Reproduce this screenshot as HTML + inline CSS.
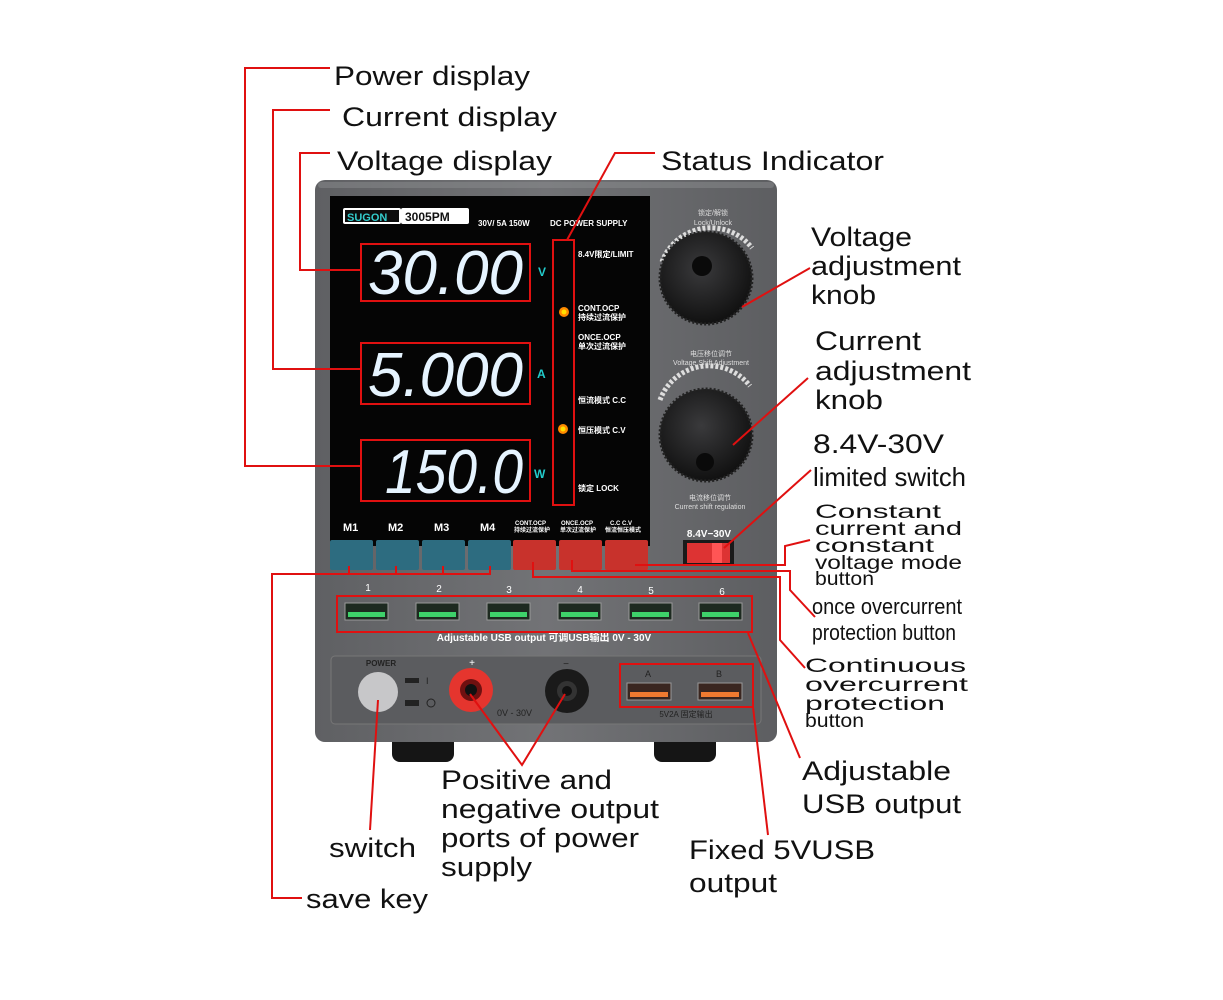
<!DOCTYPE html>
<html><head><meta charset="utf-8"><style>
html,body{margin:0;padding:0;background:#fff;width:1223px;height:1000px;overflow:hidden}
svg{display:block}
text{font-family:"Liberation Sans","Noto Sans CJK SC",sans-serif}
</style></head><body>
<svg width="1223" height="1000" viewBox="0 0 1223 1000" xmlns="http://www.w3.org/2000/svg">
<defs>
<linearGradient id="body" x1="0" y1="0" x2="1" y2="0"><stop offset="0" stop-color="#5f6063"/><stop offset="0.5" stop-color="#727376"/><stop offset="1" stop-color="#5d5e61"/></linearGradient>
<radialGradient id="knob" cx="0.45" cy="0.4" r="0.6"><stop offset="0" stop-color="#3a3a3c"/><stop offset="1" stop-color="#111"/></radialGradient>
</defs>
<rect x="392" y="730" width="62" height="32" rx="8" fill="#151515"/>
<rect x="654" y="730" width="62" height="32" rx="8" fill="#151515"/>
<rect x="315" y="180" width="462" height="562" rx="10" fill="url(#body)"/>
<rect x="318" y="182" width="456" height="6" rx="3" fill="#8a8b8e" opacity="0.5"/>
<rect x="330" y="196" width="320" height="350" fill="#050505"/>
<rect x="343" y="208" width="58" height="16" rx="2" fill="#fff"/>
<rect x="345" y="210" width="54" height="12" fill="#0d0d0d"/>
<text x="347" y="221" font-size="11" font-weight="bold" fill="#3cc">SUGON</text>
<rect x="401" y="208" width="68" height="16" rx="2" fill="#fff"/>
<text x="405" y="221" font-size="12" font-weight="bold" fill="#111">3005PM</text>
<text x="478" y="226" font-size="8" font-weight="bold" fill="#fff">30V/ 5A 150W</text>
<text x="550" y="226" font-size="8" font-weight="bold" fill="#fff">DC POWER SUPPLY</text>
<g font-family="Liberation Sans" font-size="62" fill="#e6f4ff" font-style="italic">
<text x="368" y="294" textLength="155" lengthAdjust="spacingAndGlyphs">30.00</text>
<text x="368" y="396" textLength="155" lengthAdjust="spacingAndGlyphs">5.000</text>
<text x="385" y="493" textLength="138" lengthAdjust="spacingAndGlyphs">150.0</text>
</g>
<text x="538" y="276" font-size="12" font-weight="bold" fill="#2cc">V</text>
<text x="537" y="378" font-size="12" font-weight="bold" fill="#2cc">A</text>
<text x="534" y="478" font-size="12" font-weight="bold" fill="#2cc">W</text>
<g font-size="8" font-weight="bold" fill="#fff">
<text x="578" y="257">8.4V限定/LIMIT</text>
<text x="578" y="311">CONT.OCP</text><text x="578" y="320">持续过流保护</text>
<text x="578" y="340">ONCE.OCP</text><text x="578" y="349">单次过流保护</text>
<text x="578" y="403">恒流模式 C.C</text>
<text x="578" y="433">恒压模式 C.V</text>
<text x="578" y="491">锁定  LOCK</text>
</g>
<circle cx="564" cy="312" r="5" fill="#ff8a00"/><circle cx="564" cy="312" r="2.5" fill="#ffe000"/>
<circle cx="563" cy="429" r="5" fill="#ff8a00"/><circle cx="563" cy="429" r="2.5" fill="#ffe000"/>
<g font-size="11" font-weight="bold" fill="#fff">
<text x="343" y="531">M1</text><text x="388" y="531">M2</text><text x="434" y="531">M3</text><text x="480" y="531">M4</text>
</g>
<g font-size="6" font-weight="bold" fill="#fff">
<text x="515" y="525">CONT.OCP</text><text x="514" y="532">持续过流保护</text>
<text x="561" y="525">ONCE.OCP</text><text x="560" y="532">单次过流保护</text>
<text x="610" y="525">C.C  C.V</text><text x="605" y="532">恒流恒压模式</text>
</g>
<g fill="#2d6c80"><rect x="330" y="540" width="43" height="30" rx="2"/><rect x="376" y="540" width="43" height="30" rx="2"/><rect x="422" y="540" width="43" height="30" rx="2"/><rect x="468" y="540" width="43" height="30" rx="2"/></g>
<g fill="#c8322c"><rect x="513" y="540" width="43" height="30" rx="2"/><rect x="559" y="540" width="43" height="30" rx="2"/><rect x="605" y="540" width="43" height="30" rx="2"/></g>
<text x="713" y="215" font-size="7" fill="#ddd" text-anchor="middle">锁定/解锁</text>
<text x="713" y="225" font-size="7" fill="#ddd" text-anchor="middle">Lock/Unlock</text>
<path d="M662 262 A52 52 0 0 1 752 248" stroke="#ddd" stroke-width="5" fill="none" stroke-dasharray="3 2"/>
<circle cx="706" cy="278" r="46" fill="url(#knob)" stroke="#222" stroke-width="3" stroke-dasharray="2 2"/>
<circle cx="702" cy="266" r="10" fill="#0a0a0a"/>
<text x="711" y="356" font-size="7" fill="#ddd" text-anchor="middle">电压移位调节</text>
<text x="711" y="365" font-size="7" fill="#ddd" text-anchor="middle">Voltage Shift Adjustment</text>
<path d="M660 400 A52 52 0 0 1 750 386" stroke="#ddd" stroke-width="5" fill="none" stroke-dasharray="3 2"/>
<circle cx="706" cy="435" r="46" fill="url(#knob)" stroke="#222" stroke-width="3" stroke-dasharray="2 2"/>
<circle cx="705" cy="462" r="9" fill="#0a0a0a"/>
<text x="710" y="500" font-size="7" fill="#ddd" text-anchor="middle">电流移位调节</text>
<text x="710" y="509" font-size="7" fill="#ddd" text-anchor="middle">Current shift regulation</text>
<text x="709" y="537" font-size="10" font-weight="bold" fill="#fff" text-anchor="middle">8.4V−30V</text>
<rect x="683" y="540" width="51" height="26" fill="#1a1a1a"/>
<rect x="687" y="543" width="43" height="20" fill="#d33"/>
<rect x="712" y="543" width="10" height="20" fill="#f55"/>
<g font-size="10" fill="#fff" text-anchor="middle"><text x="368" y="591">1</text><text x="439" y="592">2</text><text x="509" y="593">3</text><text x="580" y="593">4</text><text x="651" y="594">5</text><text x="722" y="595">6</text></g>
<g fill="#1d2a20" stroke="#999" stroke-width="1">
<rect x="345" y="603" width="43" height="17"/><rect x="416" y="603" width="43" height="17"/><rect x="487" y="603" width="43" height="17"/><rect x="558" y="603" width="43" height="17"/><rect x="629" y="603" width="43" height="17"/><rect x="699" y="603" width="43" height="17"/></g>
<g fill="#3ed26a"><rect x="348" y="612" width="37" height="5"/><rect x="419" y="612" width="37" height="5"/><rect x="490" y="612" width="37" height="5"/><rect x="561" y="612" width="37" height="5"/><rect x="632" y="612" width="37" height="5"/><rect x="702" y="612" width="37" height="5"/></g>
<text x="544" y="641" font-size="10" font-weight="bold" fill="#fff" text-anchor="middle">Adjustable USB output  可调USB输出 0V - 30V</text>
<rect x="331" y="656" width="430" height="68" rx="4" fill="#5b5c5f" stroke="#777" stroke-width="1"/>
<text x="381" y="666" font-size="8" font-weight="bold" fill="#222" text-anchor="middle">POWER</text>
<circle cx="378" cy="692" r="20" fill="#c7c7c9"/>
<rect x="405" y="678" width="14" height="5" fill="#222"/><text x="426" y="684" font-size="9" fill="#222">I</text>
<rect x="405" y="700" width="14" height="6" fill="#222"/><circle cx="431" cy="703" r="4" fill="none" stroke="#222"/>
<text x="472" y="666" font-size="10" fill="#fff" text-anchor="middle">+</text>
<circle cx="471" cy="690" r="22" fill="#e5352e"/><circle cx="471" cy="690" r="11" fill="#701010"/><circle cx="471" cy="690" r="6" fill="#111"/>
<text x="566" y="667" font-size="10" fill="#222" text-anchor="middle">−</text>
<circle cx="567" cy="691" r="22" fill="#1a1a1a"/><circle cx="567" cy="691" r="10" fill="#333"/><circle cx="567" cy="691" r="5" fill="#111"/>
<text x="497" y="716" font-size="9" fill="#222">0V - 30V</text>
<text x="648" y="677" font-size="9" fill="#222" text-anchor="middle">A</text><text x="719" y="677" font-size="9" fill="#222" text-anchor="middle">B</text>
<rect x="627" y="683" width="44" height="17" fill="#3a2620" stroke="#999"/><rect x="630" y="692" width="38" height="5" fill="#f07a30"/>
<rect x="698" y="683" width="44" height="17" fill="#3a2620" stroke="#999"/><rect x="701" y="692" width="38" height="5" fill="#f07a30"/>
<text x="686" y="717" font-size="8" fill="#222" text-anchor="middle">5V2A 固定输出</text>
<g stroke="#e01010" stroke-width="2" fill="none">
<rect x="361" y="244" width="169" height="57"/>
<rect x="361" y="343" width="169" height="61"/>
<rect x="361" y="440" width="169" height="61"/>
<rect x="553" y="240" width="21" height="265"/>
<rect x="337" y="596" width="415" height="36"/>
<rect x="620" y="664" width="133" height="43"/>
<polyline points="330,68 245,68 245,466 361,466"/>
<polyline points="330,110 273,110 273,369 361,369"/>
<polyline points="330,153 300,153 300,270 361,270"/>
<polyline points="567,240 615,153 655,153"/>
<line x1="742" y1="307" x2="810" y2="268"/>
<line x1="733" y1="445" x2="808" y2="378"/>
<line x1="724" y1="548" x2="811" y2="470"/>
<polyline points="349,566 349,574 396,574 396,566 396,574 443,574 443,566 443,574 490,574 490,566"/>
<polyline points="490,574 272,574 272,898 302,898"/>
<polyline points="635,565 785,565 785,546 810,540"/>
<polyline points="572,560 572,571 790,571 790,590 815,617"/>
<polyline points="533,562 533,577 780,577 780,640 805,668"/>
<line x1="748" y1="633" x2="800" y2="758"/>
<line x1="753" y1="707" x2="768" y2="835"/>
<polyline points="470,694 522,765 565,694"/>
<line x1="378" y1="700" x2="370" y2="830"/>
</g>
<g font-size="27" fill="#111" lengthAdjust="spacingAndGlyphs">
<text x="334" y="85" textLength="196" lengthAdjust="spacingAndGlyphs">Power display</text>
<text x="342" y="126" textLength="215" lengthAdjust="spacingAndGlyphs">Current display</text>
<text x="337" y="170" textLength="215" lengthAdjust="spacingAndGlyphs">Voltage display</text>
<text x="661" y="170" textLength="223" lengthAdjust="spacingAndGlyphs">Status Indicator</text>
<text x="811" y="246" textLength="101" lengthAdjust="spacingAndGlyphs">Voltage</text><text x="811" y="275" textLength="150" lengthAdjust="spacingAndGlyphs">adjustment</text><text x="811" y="304" textLength="65" lengthAdjust="spacingAndGlyphs">knob</text>
<text x="815" y="350" textLength="106" lengthAdjust="spacingAndGlyphs">Current</text><text x="815" y="380" textLength="156" lengthAdjust="spacingAndGlyphs">adjustment</text><text x="815" y="409" textLength="68" lengthAdjust="spacingAndGlyphs">knob</text>
<text x="813" y="453" textLength="131" lengthAdjust="spacingAndGlyphs">8.4V-30V</text>
<text x="441" y="789" textLength="171" lengthAdjust="spacingAndGlyphs">Positive and</text><text x="441" y="818" textLength="218" lengthAdjust="spacingAndGlyphs">negative output</text><text x="441" y="847" textLength="198" lengthAdjust="spacingAndGlyphs">ports of power</text><text x="441" y="876" textLength="91" lengthAdjust="spacingAndGlyphs">supply</text>
<text x="329" y="857" textLength="87" lengthAdjust="spacingAndGlyphs">switch</text>
<text x="306" y="908" textLength="122" lengthAdjust="spacingAndGlyphs">save key</text>
<text x="802" y="780" textLength="149" lengthAdjust="spacingAndGlyphs">Adjustable</text><text x="802" y="813" textLength="159" lengthAdjust="spacingAndGlyphs">USB output</text>
<text x="689" y="859" textLength="186" lengthAdjust="spacingAndGlyphs">Fixed 5VUSB</text><text x="689" y="892" textLength="88" lengthAdjust="spacingAndGlyphs">output</text>
</g>
<text x="813" y="486" font-size="26" fill="#111" textLength="153" lengthAdjust="spacingAndGlyphs">limited switch</text>
<g font-size="22" fill="#111">
<text x="812" y="614" textLength="150" lengthAdjust="spacingAndGlyphs">once  overcurrent</text>
<text x="812" y="640" textLength="144" lengthAdjust="spacingAndGlyphs">protection button</text>
</g>
<g font-size="19" fill="#111">
<text x="815" y="518" textLength="126" lengthAdjust="spacingAndGlyphs">Constant</text><text x="815" y="535" textLength="147" lengthAdjust="spacingAndGlyphs">current and</text><text x="815" y="552" textLength="119" lengthAdjust="spacingAndGlyphs">constant</text><text x="815" y="569" textLength="147" lengthAdjust="spacingAndGlyphs">voltage mode</text><text x="815" y="585" textLength="59" lengthAdjust="spacingAndGlyphs">button</text>
<text x="805" y="672" textLength="161" lengthAdjust="spacingAndGlyphs">Continuous</text><text x="805" y="691" textLength="163" lengthAdjust="spacingAndGlyphs">overcurrent</text><text x="805" y="710" textLength="140" lengthAdjust="spacingAndGlyphs">protection</text><text x="805" y="727" textLength="59" lengthAdjust="spacingAndGlyphs">button</text>
</g>
</svg>
</body></html>
